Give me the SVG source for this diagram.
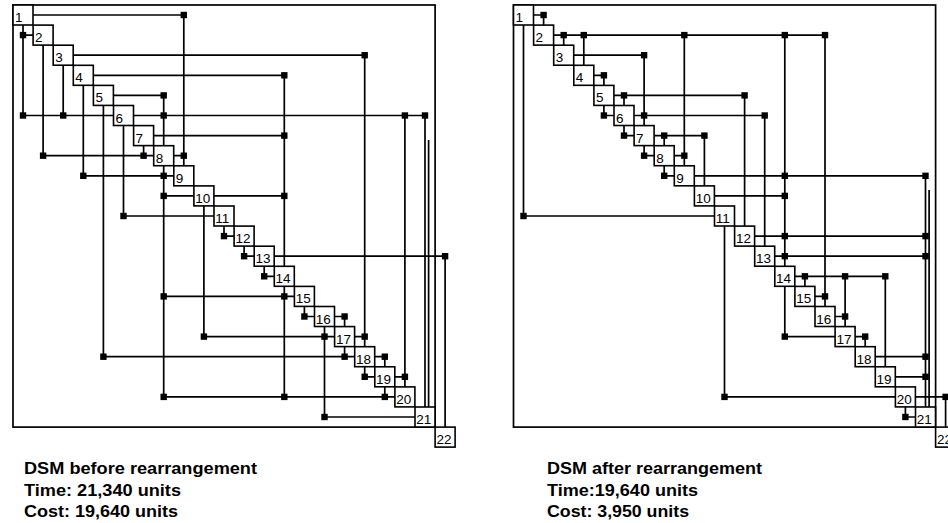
<svg xmlns="http://www.w3.org/2000/svg" xmlns:xlink="http://www.w3.org/1999/xlink" width="948" height="523" viewBox="0 0 948 523">
<style>
.bg{fill:#ffffff}
.frame{fill:none;stroke:#000;stroke-width:1.7}
.ln{fill:none;stroke:#000;stroke-width:1.7}
.nd rect{fill:#fff;stroke:#000;stroke-width:1.6}
.nd text{font-family:"Liberation Sans",Arial,sans-serif;font-size:13.5px;fill:#000}
.cap{font-family:"Liberation Sans",Arial,sans-serif;font-size:16px;font-weight:bold;fill:#000}
</style>
<defs>
<rect id="dot" x="-3.2" y="-3.2" width="6.4" height="6.4" fill="#000"/>
</defs>
<rect class="bg" x="0" y="0" width="948" height="523"/>

<g id="before">
<rect class="frame" x="13" y="5" width="422.1" height="422.1"/>
<g id="before-connectors">
<path class="ln" d="M33 15H183.8 M23 35.1H33.1 M73.2 55.2H364.7 M93.3 75.3H284.3 M113.4 95.4H163.7 M23 115.5H113.5 M133.5 115.5H425 M153.6 135.6H284.3 M43.1 155.7H153.7 M173.7 155.7H183.8 M83.3 175.8H173.8 M163.7 195.9H193.9 M213.9 195.9H284.3 M123.5 216H214 M224 236.1H234.1 M244.1 256.2H254.2 M274.2 256.2H445.1 M264.2 276.3H274.3 M163.7 296.4H294.4 M304.4 316.5H314.5 M334.5 316.5H344.6 M203.9 336.6H334.6 M354.6 336.6H364.7 M103.4 356.7H354.7 M374.7 356.7H384.8 M364.7 376.8H374.8 M394.8 376.8H404.9 M163.7 396.9H394.9 M324.5 417H415"/>
<path class="ln" d="M23 25V115.5 M43.1 45.1V155.7 M63.2 65.2V115.5 M83.3 85.3V175.8 M103.4 105.4V356.7 M123.5 125.5V216 M143.6 145.6V155.7 M163.7 95.4V145.7 M163.7 165.7V396.9 M183.8 15V165.8 M203.9 205.9V336.6 M224 226V236.1 M244.1 246.1V256.2 M264.2 266.2V276.3 M284.3 75.3V266.3 M284.3 286.3V396.9 M304.4 306.4V316.5 M324.5 326.5V417 M344.6 316.5V326.6 M344.6 346.6V356.7 M364.7 55.2V346.7 M364.7 366.7V376.8 M384.8 356.7V366.8 M384.8 386.8V396.9 M404.9 115.5V386.9 M425 115.5V407 M428.6 140V407 M445.1 256.2V427.1"/>
<use xlink:href="#dot" x="183.8" y="15"/>
<use xlink:href="#dot" x="23" y="35.1"/>
<use xlink:href="#dot" x="364.7" y="55.2"/>
<use xlink:href="#dot" x="284.3" y="75.3"/>
<use xlink:href="#dot" x="163.7" y="95.4"/>
<use xlink:href="#dot" x="23" y="115.5"/>
<use xlink:href="#dot" x="63.2" y="115.5"/>
<use xlink:href="#dot" x="163.7" y="115.5"/>
<use xlink:href="#dot" x="404.9" y="115.5"/>
<use xlink:href="#dot" x="425" y="115.5"/>
<use xlink:href="#dot" x="284.3" y="135.6"/>
<use xlink:href="#dot" x="43.1" y="155.7"/>
<use xlink:href="#dot" x="143.6" y="155.7"/>
<use xlink:href="#dot" x="183.8" y="155.7"/>
<use xlink:href="#dot" x="83.3" y="175.8"/>
<use xlink:href="#dot" x="163.7" y="175.8"/>
<use xlink:href="#dot" x="163.7" y="195.9"/>
<use xlink:href="#dot" x="284.3" y="195.9"/>
<use xlink:href="#dot" x="123.5" y="216"/>
<use xlink:href="#dot" x="224" y="236.1"/>
<use xlink:href="#dot" x="244.1" y="256.2"/>
<use xlink:href="#dot" x="445.1" y="256.2"/>
<use xlink:href="#dot" x="264.2" y="276.3"/>
<use xlink:href="#dot" x="163.7" y="296.4"/>
<use xlink:href="#dot" x="284.3" y="296.4"/>
<use xlink:href="#dot" x="304.4" y="316.5"/>
<use xlink:href="#dot" x="344.6" y="316.5"/>
<use xlink:href="#dot" x="203.9" y="336.6"/>
<use xlink:href="#dot" x="324.5" y="336.6"/>
<use xlink:href="#dot" x="364.7" y="336.6"/>
<use xlink:href="#dot" x="103.4" y="356.7"/>
<use xlink:href="#dot" x="344.6" y="356.7"/>
<use xlink:href="#dot" x="384.8" y="356.7"/>
<use xlink:href="#dot" x="364.7" y="376.8"/>
<use xlink:href="#dot" x="404.9" y="376.8"/>
<use xlink:href="#dot" x="163.7" y="396.9"/>
<use xlink:href="#dot" x="284.3" y="396.9"/>
<use xlink:href="#dot" x="384.8" y="396.9"/>
<use xlink:href="#dot" x="324.5" y="417"/>
</g>
<g id="b1" class="nd"><rect x="13" y="5" width="20" height="20"/><text x="15" y="22">1</text></g>
<g id="b2" class="nd"><rect x="33.1" y="25.1" width="20" height="20"/><text x="35.1" y="42.1">2</text></g>
<g id="b3" class="nd"><rect x="53.2" y="45.2" width="20" height="20"/><text x="55.2" y="62.2">3</text></g>
<g id="b4" class="nd"><rect x="73.3" y="65.3" width="20" height="20"/><text x="75.3" y="82.3">4</text></g>
<g id="b5" class="nd"><rect x="93.4" y="85.4" width="20" height="20"/><text x="95.4" y="102.4">5</text></g>
<g id="b6" class="nd"><rect x="113.5" y="105.5" width="20" height="20"/><text x="115.5" y="122.5">6</text></g>
<g id="b7" class="nd"><rect x="133.6" y="125.6" width="20" height="20"/><text x="135.6" y="142.6">7</text></g>
<g id="b8" class="nd"><rect x="153.7" y="145.7" width="20" height="20"/><text x="155.7" y="162.7">8</text></g>
<g id="b9" class="nd"><rect x="173.8" y="165.8" width="20" height="20"/><text x="175.8" y="182.8">9</text></g>
<g id="b10" class="nd"><rect x="193.9" y="185.9" width="20" height="20"/><text x="195.2" y="202.9">10</text></g>
<g id="b11" class="nd"><rect x="214" y="206" width="20" height="20"/><text x="215.3" y="223">11</text></g>
<g id="b12" class="nd"><rect x="234.1" y="226.1" width="20" height="20"/><text x="235.4" y="243.1">12</text></g>
<g id="b13" class="nd"><rect x="254.2" y="246.2" width="20" height="20"/><text x="255.5" y="263.2">13</text></g>
<g id="b14" class="nd"><rect x="274.3" y="266.3" width="20" height="20"/><text x="275.6" y="283.3">14</text></g>
<g id="b15" class="nd"><rect x="294.4" y="286.4" width="20" height="20"/><text x="295.7" y="303.4">15</text></g>
<g id="b16" class="nd"><rect x="314.5" y="306.5" width="20" height="20"/><text x="315.8" y="323.5">16</text></g>
<g id="b17" class="nd"><rect x="334.6" y="326.6" width="20" height="20"/><text x="335.9" y="343.6">17</text></g>
<g id="b18" class="nd"><rect x="354.7" y="346.7" width="20" height="20"/><text x="356" y="363.7">18</text></g>
<g id="b19" class="nd"><rect x="374.8" y="366.8" width="20" height="20"/><text x="376.1" y="383.8">19</text></g>
<g id="b20" class="nd"><rect x="394.9" y="386.9" width="20" height="20"/><text x="396.2" y="403.9">20</text></g>
<g id="b21" class="nd"><rect x="415" y="407" width="20" height="20"/><text x="416.3" y="424">21</text></g>
<g id="b22" class="nd"><rect x="435.1" y="427.1" width="20" height="20"/><text x="436.4" y="444.1">22</text></g>
<g id="before-caption">
<text class="cap" x="24" y="474" textLength="233" lengthAdjust="spacingAndGlyphs">DSM before rearrangement</text>
<text class="cap" x="24" y="496" textLength="157" lengthAdjust="spacingAndGlyphs">Time: 21,340 units</text>
<text class="cap" x="24" y="517" textLength="154" lengthAdjust="spacingAndGlyphs">Cost: 19,640 units</text>
</g>
</g>

<g id="after">
<g transform="translate(500.5,0)">
<rect class="frame" x="13" y="5" width="422.1" height="422.1"/>
<g id="after-connectors">
<path class="ln" d="M33 15H43.1 M53.1 35.1H324.5 M73.2 55.2H143.6 M93.3 75.3H103.4 M113.4 95.4H244.1 M103.4 115.5H113.5 M133.5 115.5H264.2 M123.5 135.6H133.6 M153.6 135.6H203.9 M143.6 155.7H153.7 M173.7 155.7H183.8 M163.7 175.8H173.8 M193.8 175.8H425 M213.9 195.9H284.3 M23 216H214 M254.1 236.1H425 M274.2 256.2H425 M294.3 276.3H384.8 M314.4 296.4H324.5 M334.5 316.5H344.6 M284.3 336.6H334.6 M354.6 336.6H364.7 M374.7 356.7H425 M394.8 376.8H425 M224 396.9H394.9 M414.9 396.9H445.1 M404.9 417H415"/>
<path class="ln" d="M23 25V216 M43.1 15V25.1 M63.2 35.1V45.2 M83.3 35.1V65.3 M103.4 75.3V85.4 M103.4 105.4V115.5 M123.5 95.4V105.5 M123.5 125.5V135.6 M143.6 55.2V125.6 M143.6 145.6V155.7 M163.7 135.6V145.7 M163.7 165.7V175.8 M183.8 35.1V165.8 M203.9 135.6V185.9 M224 226V396.9 M244.1 95.4V226.1 M264.2 115.5V246.2 M284.3 35.1V266.3 M284.3 286.3V336.6 M304.4 276.3V286.4 M324.5 35.1V306.5 M344.6 276.3V326.6 M364.7 336.6V346.7 M384.8 276.3V366.8 M404.9 406.9V417 M425 175.8V407 M428.6 190V407 M445.1 396.9V427.1"/>
<use xlink:href="#dot" x="43.1" y="15"/>
<use xlink:href="#dot" x="63.2" y="35.1"/>
<use xlink:href="#dot" x="83.3" y="35.1"/>
<use xlink:href="#dot" x="183.8" y="35.1"/>
<use xlink:href="#dot" x="284.3" y="35.1"/>
<use xlink:href="#dot" x="324.5" y="35.1"/>
<use xlink:href="#dot" x="143.6" y="55.2"/>
<use xlink:href="#dot" x="103.4" y="75.3"/>
<use xlink:href="#dot" x="123.5" y="95.4"/>
<use xlink:href="#dot" x="244.1" y="95.4"/>
<use xlink:href="#dot" x="103.4" y="115.5"/>
<use xlink:href="#dot" x="143.6" y="115.5"/>
<use xlink:href="#dot" x="264.2" y="115.5"/>
<use xlink:href="#dot" x="123.5" y="135.6"/>
<use xlink:href="#dot" x="163.7" y="135.6"/>
<use xlink:href="#dot" x="203.9" y="135.6"/>
<use xlink:href="#dot" x="143.6" y="155.7"/>
<use xlink:href="#dot" x="183.8" y="155.7"/>
<use xlink:href="#dot" x="163.7" y="175.8"/>
<use xlink:href="#dot" x="284.3" y="175.8"/>
<use xlink:href="#dot" x="425" y="175.8"/>
<use xlink:href="#dot" x="284.3" y="195.9"/>
<use xlink:href="#dot" x="23" y="216"/>
<use xlink:href="#dot" x="284.3" y="236.1"/>
<use xlink:href="#dot" x="425" y="236.1"/>
<use xlink:href="#dot" x="284.3" y="256.2"/>
<use xlink:href="#dot" x="425" y="256.2"/>
<use xlink:href="#dot" x="304.4" y="276.3"/>
<use xlink:href="#dot" x="344.6" y="276.3"/>
<use xlink:href="#dot" x="384.8" y="276.3"/>
<use xlink:href="#dot" x="324.5" y="296.4"/>
<use xlink:href="#dot" x="344.6" y="316.5"/>
<use xlink:href="#dot" x="284.3" y="336.6"/>
<use xlink:href="#dot" x="364.7" y="336.6"/>
<use xlink:href="#dot" x="425" y="356.7"/>
<use xlink:href="#dot" x="425" y="376.8"/>
<use xlink:href="#dot" x="224" y="396.9"/>
<use xlink:href="#dot" x="445.1" y="396.9"/>
<use xlink:href="#dot" x="404.9" y="417"/>
</g>
<g id="a1" class="nd"><rect x="13" y="5" width="20" height="20"/><text x="15" y="22">1</text></g>
<g id="a2" class="nd"><rect x="33.1" y="25.1" width="20" height="20"/><text x="35.1" y="42.1">2</text></g>
<g id="a3" class="nd"><rect x="53.2" y="45.2" width="20" height="20"/><text x="55.2" y="62.2">3</text></g>
<g id="a4" class="nd"><rect x="73.3" y="65.3" width="20" height="20"/><text x="75.3" y="82.3">4</text></g>
<g id="a5" class="nd"><rect x="93.4" y="85.4" width="20" height="20"/><text x="95.4" y="102.4">5</text></g>
<g id="a6" class="nd"><rect x="113.5" y="105.5" width="20" height="20"/><text x="115.5" y="122.5">6</text></g>
<g id="a7" class="nd"><rect x="133.6" y="125.6" width="20" height="20"/><text x="135.6" y="142.6">7</text></g>
<g id="a8" class="nd"><rect x="153.7" y="145.7" width="20" height="20"/><text x="155.7" y="162.7">8</text></g>
<g id="a9" class="nd"><rect x="173.8" y="165.8" width="20" height="20"/><text x="175.8" y="182.8">9</text></g>
<g id="a10" class="nd"><rect x="193.9" y="185.9" width="20" height="20"/><text x="195.2" y="202.9">10</text></g>
<g id="a11" class="nd"><rect x="214" y="206" width="20" height="20"/><text x="215.3" y="223">11</text></g>
<g id="a12" class="nd"><rect x="234.1" y="226.1" width="20" height="20"/><text x="235.4" y="243.1">12</text></g>
<g id="a13" class="nd"><rect x="254.2" y="246.2" width="20" height="20"/><text x="255.5" y="263.2">13</text></g>
<g id="a14" class="nd"><rect x="274.3" y="266.3" width="20" height="20"/><text x="275.6" y="283.3">14</text></g>
<g id="a15" class="nd"><rect x="294.4" y="286.4" width="20" height="20"/><text x="295.7" y="303.4">15</text></g>
<g id="a16" class="nd"><rect x="314.5" y="306.5" width="20" height="20"/><text x="315.8" y="323.5">16</text></g>
<g id="a17" class="nd"><rect x="334.6" y="326.6" width="20" height="20"/><text x="335.9" y="343.6">17</text></g>
<g id="a18" class="nd"><rect x="354.7" y="346.7" width="20" height="20"/><text x="356" y="363.7">18</text></g>
<g id="a19" class="nd"><rect x="374.8" y="366.8" width="20" height="20"/><text x="376.1" y="383.8">19</text></g>
<g id="a20" class="nd"><rect x="394.9" y="386.9" width="20" height="20"/><text x="396.2" y="403.9">20</text></g>
<g id="a21" class="nd"><rect x="415" y="407" width="20" height="20"/><text x="416.3" y="424">21</text></g>
<g id="a22" class="nd"><rect x="435.1" y="427.1" width="20" height="20"/><text x="436.4" y="444.1">22</text></g>
</g>
<g id="after-caption">
<text class="cap" x="547" y="474" textLength="215" lengthAdjust="spacingAndGlyphs">DSM after rearrangement</text>
<text class="cap" x="547" y="496" textLength="151" lengthAdjust="spacingAndGlyphs">Time:19,640 units</text>
<text class="cap" x="547" y="517" textLength="142" lengthAdjust="spacingAndGlyphs">Cost: 3,950 units</text>
</g>
</g>
</svg>
